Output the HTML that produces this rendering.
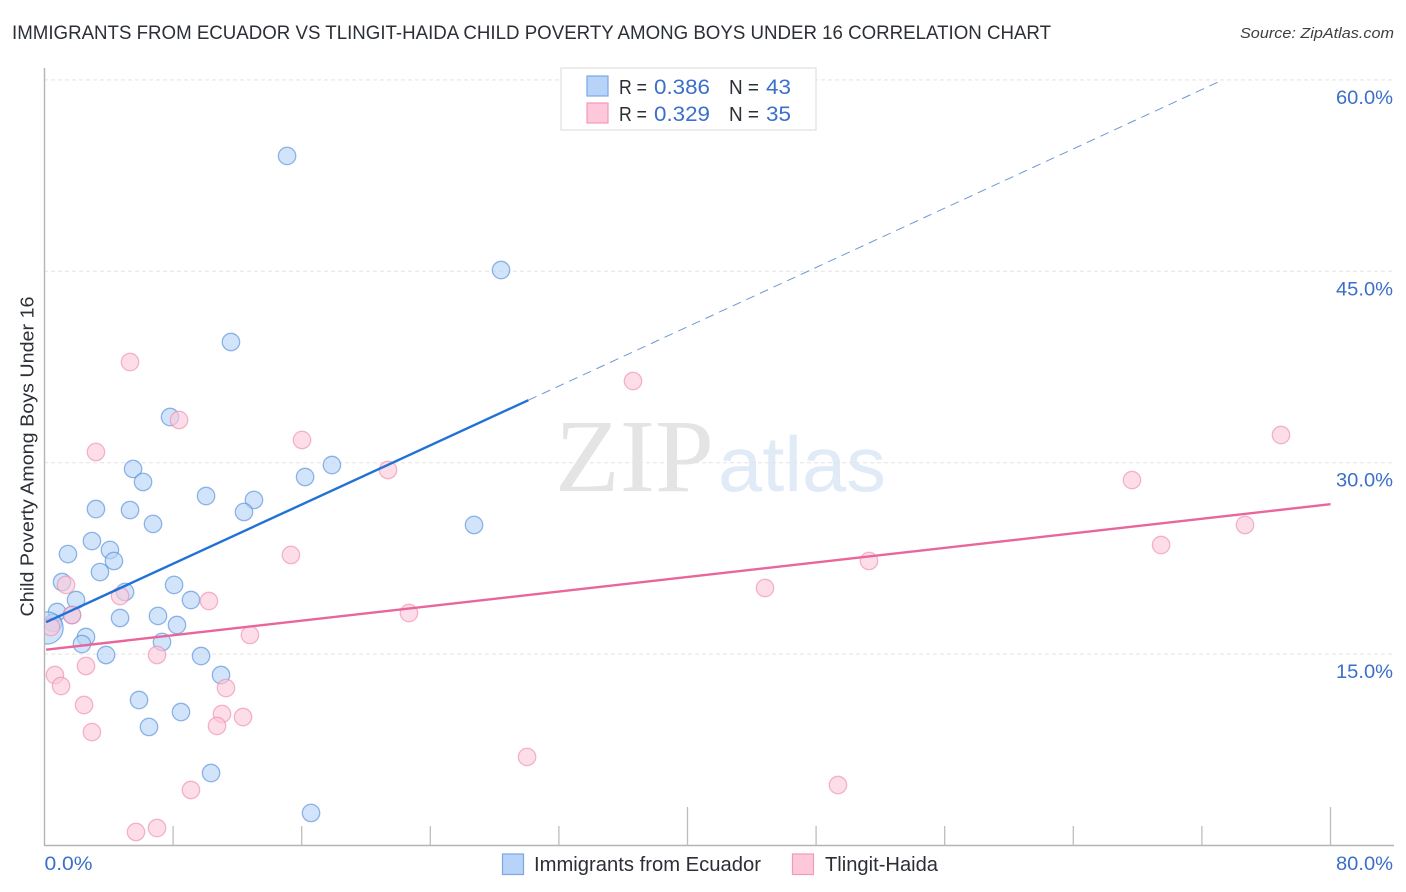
<!DOCTYPE html>
<html lang="en">
<head>
<meta charset="utf-8">
<title>Immigrants from Ecuador vs Tlingit-Haida Child Poverty Correlation Chart</title>
<style>
html,body{margin:0;padding:0;background:#fff;width:1406px;height:892px;overflow:hidden}
svg{display:block;font-family:"Liberation Sans",sans-serif}
</style>
</head>
<body>
<svg id="chart" xmlns="http://www.w3.org/2000/svg" width="1406" height="892" viewBox="0 0 1406 892">
<defs><clipPath id="plot-clip"><rect x="45" y="60" width="1349" height="785"/></clipPath></defs>
<text x="12" y="39" font-size="19.5" fill="#2b2f36" textLength="1039" lengthAdjust="spacingAndGlyphs">IMMIGRANTS FROM ECUADOR VS TLINGIT-HAIDA CHILD POVERTY AMONG BOYS UNDER 16 CORRELATION CHART</text>
<text x="1394" y="38" font-size="15" font-style="italic" fill="#3c4043" text-anchor="end" textLength="154" lengthAdjust="spacingAndGlyphs">Source: ZipAtlas.com</text>
<text x="555" y="491" font-family="'Liberation Serif',serif" font-size="104" fill="#e4e4e4" textLength="159" lengthAdjust="spacingAndGlyphs">ZIP</text>
<text x="718" y="491" font-size="78" fill="#e1ebf8" textLength="168" lengthAdjust="spacingAndGlyphs">atlas</text>
<g id="grid"></g>
<g id="axes"></g>
<g id="points" clip-path="url(#plot-clip)"></g>
<g id="trends"></g>
<text transform="translate(33.5,456.5) rotate(-90)" font-size="18.5" fill="#2b2f36" text-anchor="middle" textLength="320" lengthAdjust="spacingAndGlyphs">Child Poverty Among Boys Under 16</text>
<g>
<rect x="561" y="68" width="255" height="62" fill="#fff" stroke="#e2e2e2" stroke-width="1.3"/>
<rect x="587" y="76" width="21" height="20" fill="#b7d3f7" stroke="#7ba8e4" stroke-width="1.2"/>
<rect x="587" y="103" width="21" height="20" fill="#fcc8da" stroke="#f29ab8" stroke-width="1.2"/>
<text x="619" y="94" font-size="20" fill="#2b2f36" textLength="28" lengthAdjust="spacingAndGlyphs">R =</text>
<text x="654" y="94" font-size="21" fill="#3b6fc9" textLength="56" lengthAdjust="spacingAndGlyphs">0.386</text>
<text x="729" y="94" font-size="20" fill="#2b2f36" textLength="30" lengthAdjust="spacingAndGlyphs">N =</text>
<text x="766" y="94" font-size="21" fill="#3b6fc9" textLength="25" lengthAdjust="spacingAndGlyphs">43</text>
<text x="619" y="121" font-size="20" fill="#2b2f36" textLength="28" lengthAdjust="spacingAndGlyphs">R =</text>
<text x="654" y="121" font-size="21" fill="#3b6fc9" textLength="56" lengthAdjust="spacingAndGlyphs">0.329</text>
<text x="729" y="121" font-size="20" fill="#2b2f36" textLength="30" lengthAdjust="spacingAndGlyphs">N =</text>
<text x="766" y="121" font-size="21" fill="#3b6fc9" textLength="25" lengthAdjust="spacingAndGlyphs">35</text>
</g>
<g>
<rect x="502.5" y="854" width="21" height="20.5" fill="#b7d3f7" stroke="#7ba8e4" stroke-width="1.2"/>
<text x="534" y="871" font-size="20" fill="#2b2f36" textLength="227" lengthAdjust="spacingAndGlyphs">Immigrants from Ecuador</text>
<rect x="792.5" y="854" width="21" height="20.5" fill="#fcc8da" stroke="#f29ab8" stroke-width="1.2"/>
<text x="825" y="871" font-size="20" fill="#2b2f36" textLength="113" lengthAdjust="spacingAndGlyphs">Tlingit-Haida</text>
</g>
</svg>
<script>
const yTicks = [15, 30, 45, 60];
const yTickLabels = ["15.0%", "30.0%", "45.0%", "60.0%"];
const xTicks = [0, 8, 16, 24, 32, 40, 48, 56, 64, 72, 80];
const xEndLabels = ["0.0%", "80.0%"];

const ecuadorX = [15.09,28.40,11.60,7.81,5.51,6.13,3.20,5.32,6.75,10.05,13.03,12.41,16.21,17.88,26.72,2.95,1.46,4.07,4.32,3.45,1.09,5.01,8.06,1.96,9.11,0.78,1.71,4.70,7.06,8.24,0.53,2.58,2.33,3.83,7.31,9.74,10.98,5.88,8.49,6.50,10.36,16.58,0.16];
const ecuadorY = [54.04,45.10,39.46,33.58,29.51,28.49,26.37,26.29,25.20,27.39,27.08,26.14,28.88,29.82,25.12,23.86,22.84,23.16,22.30,21.43,20.65,19.87,20.42,19.24,19.24,18.30,18.06,17.83,17.99,17.28,17.44,16.34,15.79,14.93,15.95,14.85,13.36,11.40,10.46,9.29,5.68,2.55,17.05];
const ecuadorWeight = [1,1,1,1,1,1,1,1,1,1,1,1,1,1,1,1,1,1,1,1,1,1,1,1,1,1,1,1,1,1,1,1,1,1,1,1,1,1,1,1,1,1,3.4];

const tlingitX = [5.32,8.37,3.20,16.02,21.37,36.61,76.92,67.65,69.46,74.68,51.29,44.82,15.33,1.34,4.70,10.23,1.71,22.67,12.78,7.00,2.58,0.65,1.03,2.46,11.29,11.04,12.35,10.73,2.95,30.02,9.11,49.36,5.69,7.00,0.40];
const tlingitY = [37.89,33.35,30.84,31.78,29.43,36.40,32.17,28.64,23.55,25.12,22.30,20.18,22.77,20.42,19.55,19.16,18.06,18.22,16.50,14.93,14.07,13.36,12.50,11.01,12.34,10.31,10.07,9.37,8.89,6.94,4.35,4.74,1.06,1.37,17.12];
const tlingitWeight = [1,1,1,1,1,1,1,1,1,1,1,1,1,1,1,1,1,1,1,1,1,1,1,1,1,1,1,1,1,1,1,1,1,1,1];

const ecuadorTrendX = [0.1, 30.1];
const ecuadorTrendY = [17.5, 34.9];
const ecuadorDashX = [30.1, 73.3];
const ecuadorDashY = [34.9, 60.0];
const tlingitTrendX = [0.1, 80];
const tlingitTrendY = [15.35, 26.75];

const NS = "http://www.w3.org/2000/svg";
function xScale(v){ return 44.5 + v * 16.075; }
function yScale(v){ return 845.5 - v * 12.76; }
function make(parent, tag, attrs, text){
  const el = document.createElementNS(NS, tag);
  for (const k in attrs) el.setAttribute(k, attrs[k]);
  if (text !== undefined) el.textContent = text;
  document.getElementById(parent).appendChild(el);
  return el;
}

yTicks.forEach(function(t, i){
  const g = make("grid", "line", {x1:44, x2:1394, y1:yScale(t), y2:yScale(t), stroke:"#e4e4e4", "stroke-width":1, "stroke-dasharray":"4 3"});
  
  
  const l = make("axes", "text", {x:1393, y:yScale(t) + 24, "text-anchor":"end", "font-size":19, fill:"#3b6fc9", textLength:57, lengthAdjust:"spacingAndGlyphs"}, yTickLabels[i]);
  
  
});

const yAxis = make("axes", "line", {x1:44.5, x2:44.5, y1:68, y2:846, stroke:"#b4b4b4", "stroke-width":1.4});


const xAxis = make("axes", "line", {x1:44, x2:1394, y1:845.5, y2:845.5, stroke:"#b4b4b4", "stroke-width":1.4});



xTicks.forEach(function(t){
  if (t === 0) return;
  const major = t % 40 === 0;
  const m = make("axes", "line", {x1:xScale(t), x2:xScale(t), y1:major ? 807 : 826, y2:845.5, stroke:"#bdbdbd", "stroke-width":1.3});
  
  
});

const x0 = make("axes", "text", {x:xScale(0), y:870, "font-size":19, fill:"#3b6fc9", textLength:48, lengthAdjust:"spacingAndGlyphs"}, xEndLabels[0]);


const x1 = make("axes", "text", {x:1393, y:870, "font-size":19, fill:"#3b6fc9", "text-anchor":"end", textLength:57, lengthAdjust:"spacingAndGlyphs"}, xEndLabels[1]);



function drawSeries(xs, ys, ws, fill, stroke, name){
  xs.forEach(function(v, i){
    const c = make("points", "circle", {cx:xScale(v), cy:yScale(ys[i]), r:8.7 * Math.sqrt(ws[i]), fill:fill, "fill-opacity":0.62, stroke:stroke, "stroke-opacity":0.62, "stroke-width":1.3});
    
    
  });
}
drawSeries(ecuadorX, ecuadorY, ecuadorWeight, "#b7d3f7", "#4f8ada", "point-ecuador");
drawSeries(tlingitX, tlingitY, tlingitWeight, "#fcc8da", "#ee8aae", "point-tlingit");

const t1 = make("trends", "line", {x1:xScale(ecuadorTrendX[0]), y1:yScale(ecuadorTrendY[0]), x2:xScale(ecuadorTrendX[1]), y2:yScale(ecuadorTrendY[1]), stroke:"#2271d6", "stroke-width":2.4});


const t2 = make("trends", "line", {x1:xScale(ecuadorDashX[0]), y1:yScale(ecuadorDashY[0]), x2:xScale(ecuadorDashX[1]), y2:yScale(ecuadorDashY[1]), stroke:"#6f97d4", "stroke-width":1, "stroke-dasharray":"9 6"});


const t3 = make("trends", "line", {x1:xScale(tlingitTrendX[0]), y1:yScale(tlingitTrendY[0]), x2:xScale(tlingitTrendX[1]), y2:yScale(tlingitTrendY[1]), stroke:"#e9669a", "stroke-width":2.4});


</script>
</body>
</html>
